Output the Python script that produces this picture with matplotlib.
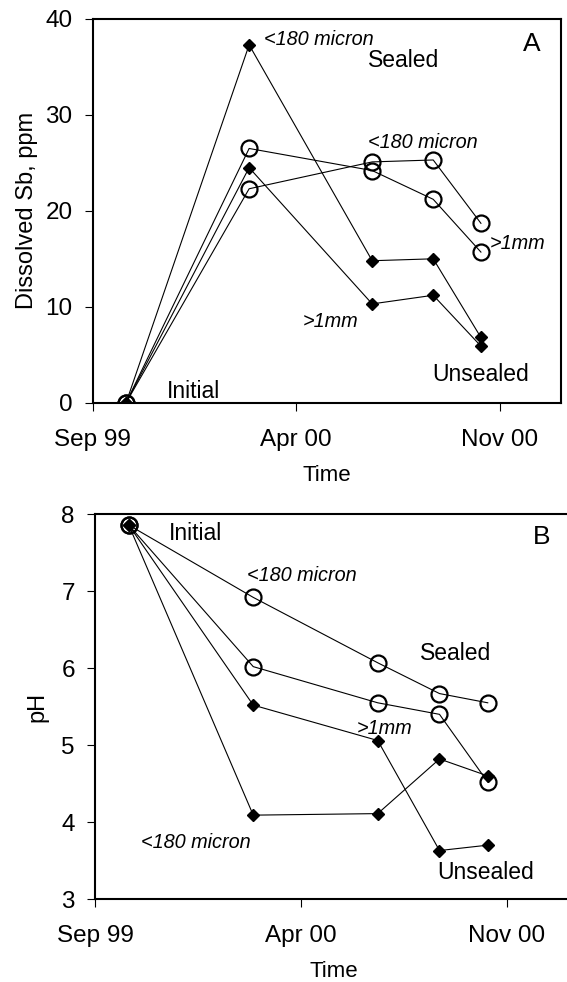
import numpy as np
import matplotlib
matplotlib.use("Agg")
import matplotlib.pyplot as plt

plt.rcParams['font.family'] = ['Liberation Sans', 'DejaVu Sans']

# -----------------------------
# DATA
# -----------------------------
dates = np.array(['1999-10-06', '2000-02-12', '2000-06-20', '2000-08-23', '2000-10-12'],
                 dtype='datetime64[D]')
tick_dates = np.array(['1999-09-01', '2000-04-01', '2000-11-01'], dtype='datetime64[D]')
tick_labels = ['Sep 99', 'Apr 00', 'Nov 00']

# panel A: dissolved Sb, ppm
sb_unsealed_fine = [0, 37.3, 14.8, 15.0, 6.8]
sb_unsealed_coarse = [0, 24.5, 10.3, 11.2, 5.9]
sb_sealed_fine = [0, 22.3, 25.1, 25.3, 18.7]
sb_sealed_coarse = [0, 26.5, 24.2, 21.2, 15.7]

# panel B: pH
ph_sealed_fine = [7.86, 6.92, 6.07, 5.67, 5.55]
ph_sealed_coarse = [7.86, 6.02, 5.55, 5.40, 4.52]
ph_unsealed_coarse = [7.86, 5.52, 5.06, 3.63, 3.70]
ph_unsealed_fine = [7.86, 4.09, 4.11, 4.82, 4.60]

start = np.datetime64('1999-09-01')

fig = plt.figure(figsize=(5.67, 9.82), dpi=100)
axA = fig.add_axes([0.1635, 0.5899, 0.826, 0.3908])
axB = fig.add_axes([0.1675, 0.0845, 0.8425, 0.3918])

filled = dict(color='black', lw=0.8, marker='D', ms=6.5, mfc='black', mec='black')
hollow = dict(color='black', lw=0.8, marker='o', ms=11.5, mfc='none', mec='black', mew=1.6)


def label(ax, day, y, s, italic=False, size=None):
    ax.text(start + np.timedelta64(day, 'D'), y, s, va='center', ha='left',
            fontsize=size or (14.3 if italic else 16.5),
            style='italic' if italic else 'normal')


# -----------------------------
# PANEL A
# -----------------------------
axA.plot(dates, sb_unsealed_fine, **filled)
axA.plot(dates, sb_unsealed_coarse, **filled)
axA.plot(dates, sb_sealed_fine, **hollow)
axA.plot(dates, sb_sealed_coarse, **hollow)
axA.set_ylim(0, 40)
axA.set_yticks([0, 10, 20, 30, 40])
axA.set_xlim(start, np.datetime64('2001-01-04'))
axA.set_ylabel('Dissolved Sb, ppm', fontsize=17, labelpad=5)

label(axA, 180, 37.9, '<180 micron', True)
label(axA, 289, 35.7, 'Sealed')
label(axA, 289, 27.1, '<180 micron', True)
label(axA, 416, 16.6, '>1mm', True)
label(axA, 220, 8.5, '>1mm', True)
label(axA, 356, 2.96, 'Unsealed')
label(axA, 78, 1.2, 'Initial')
label(axA, 451, 37.4, 'A', size=19)

# -----------------------------
# PANEL B
# -----------------------------
axB.plot(dates, ph_sealed_fine, **hollow)
axB.plot(dates, ph_sealed_coarse, **hollow)
axB.plot(dates, ph_unsealed_coarse, **filled)
axB.plot(dates, ph_unsealed_fine, **filled)
axB.set_ylim(3, 8)
axB.set_yticks([3, 4, 5, 6, 7, 8])
axB.set_xlim(start, np.datetime64('2001-01-08'))
axB.set_ylabel('pH', fontsize=17, labelpad=9)

label(axB, 77, 7.75, 'Initial')
label(axB, 158, 7.21, '<180 micron', True)
label(axB, 337, 6.19, 'Sealed')
label(axB, 271, 5.21, '>1mm', True)
label(axB, 48, 3.74, '<180 micron', True)
label(axB, 355, 3.35, 'Unsealed')
label(axB, 454, 7.71, 'B', size=19)

for ax in (axA, axB):
    ax.set_xticks(tick_dates)
    ax.set_xticklabels(tick_labels)
    ax.set_xlabel('Time', fontsize=16, labelpad=10)
    ax.tick_params(direction='out', length=6, width=0.8, labelsize=17.5)
    ax.tick_params(axis='x', pad=13)
    ax.tick_params(axis='y', pad=8.5)
    for sp in ax.spines.values():
        sp.set_linewidth(1.5)

fig.savefig('out.png', dpi=100)
